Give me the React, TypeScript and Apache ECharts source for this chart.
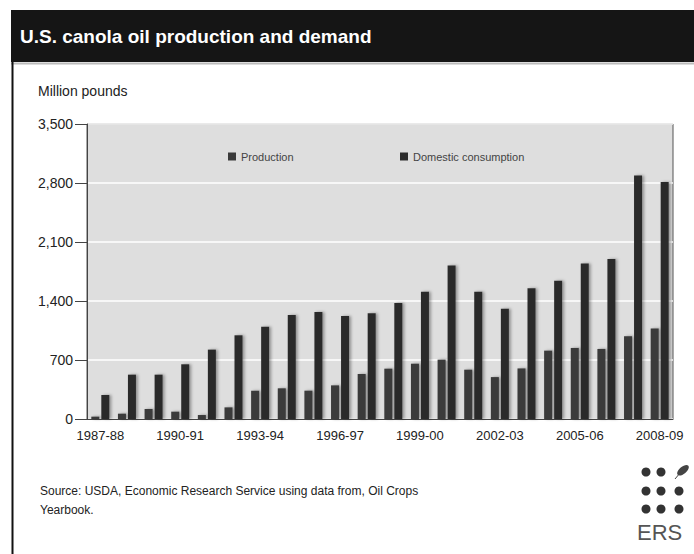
import React, { useEffect, useRef } from "react";
import * as echarts from "echarts";

const categories = [
  "1987-88", "1988-89", "1989-90", "1990-91", "1991-92", "1992-93", "1993-94", "1994-95",
  "1995-96", "1996-97", "1997-98", "1998-99", "1999-00", "2000-01", "2001-02", "2002-03",
  "2003-04", "2004-05", "2005-06", "2006-07", "2007-08", "2008-09",
];
const production = [28, 63, 119, 87, 47, 138, 336, 364, 336, 399, 534, 597, 656, 704, 585, 497, 600, 811, 843, 831, 982, 1074];
const consumption = [285, 526, 526, 649, 823, 993, 1095, 1234, 1270, 1222, 1254, 1376, 1511, 1822, 1511, 1309, 1551, 1639, 1845, 1897, 2888, 2812];
const yTicks = [0, 700, 1400, 2100, 2800, 3500];

const FONT = "Arial, 'Liberation Sans', sans-serif";

export default function App() {
  const ref = useRef<HTMLDivElement>(null);
  useEffect(() => {
    if (!ref.current) return;
    const chart = echarts.init(ref.current, null, { renderer: "svg" });
    const shadow = { shadowBlur: 3, shadowColor: "rgba(0,0,0,0.35)", shadowOffsetX: 2, shadowOffsetY: 0 };
    chart.setOption({
      animation: false,
      backgroundColor: "#ffffff",
      textStyle: { fontFamily: FONT },
      grid: {
        left: 87, right: 21, top: 124, bottom: 135,
        show: true, backgroundColor: "#dedede", borderColor: "#555", borderWidth: 1,
      },
      legend: [
        {
          data: ["Production"], left: 223, top: 146, itemWidth: 8, itemHeight: 8, itemGap: 8,
          icon: "rect", textStyle: { fontSize: 11, color: "#444", fontFamily: FONT },
        },
        {
          data: ["Domestic consumption"], left: 395, top: 146, itemWidth: 8, itemHeight: 8,
          icon: "rect", textStyle: { fontSize: 11, color: "#444", fontFamily: FONT },
        },
      ],
      xAxis: {
        type: "category",
        data: categories,
        axisLine: { lineStyle: { color: "#444" } },
        axisTick: { alignWithLabel: true, interval: 2, length: 5, lineStyle: { color: "#444" } },
        axisLabel: { interval: 2, fontSize: 13, color: "#222", margin: 10, fontFamily: FONT },
      },
      yAxis: {
        type: "value",
        min: yTicks[0],
        max: yTicks[yTicks.length - 1],
        interval: yTicks[1] - yTicks[0],
        axisLine: { show: true, lineStyle: { color: "#444" } },
        axisTick: { show: true, length: 12, lineStyle: { color: "#444" } },
        axisLabel: {
          fontSize: 14, color: "#222", margin: 14, fontFamily: FONT,
          formatter: (v: number) => v.toLocaleString("en-US"),
        },
        splitLine: { lineStyle: { color: "#ffffff", width: 1.5 } },
      },
      series: [
        {
          name: "Production", type: "bar", data: production, barWidth: 8, barGap: "25%",
          itemStyle: { color: "#3a3a3a", ...shadow },
        },
        {
          name: "Domestic consumption", type: "bar", data: consumption, barWidth: 8,
          itemStyle: { color: "#2c2c2c", ...shadow },
        },
      ],
      graphic: [
        { type: "rect", shape: { x: 11, y: 10, width: 683, height: 52 }, style: { fill: "#151515" } },
        { type: "line", shape: { x1: 11, y1: 63.5, x2: 694, y2: 63.5 }, style: { stroke: "#bbb", lineWidth: 2 } },
        { type: "line", shape: { x1: 12.5, y1: 62, x2: 12.5, y2: 554 }, style: { stroke: "#111", lineWidth: 2 } },
        {
          type: "text", x: 20, y: 36,
          style: { text: "U.S. canola oil production and demand", fill: "#fff", font: `bold 19px ${FONT}`, textVerticalAlign: "middle" },
        },
        {
          type: "text", x: 38, y: 91,
          style: { text: "Million pounds", fill: "#222", font: `14px ${FONT}`, textVerticalAlign: "middle" },
        },
        {
          type: "text", x: 40, y: 491,
          style: { text: "Source: USDA, Economic Research Service using data from, Oil Crops", fill: "#222", font: `12px ${FONT}`, textVerticalAlign: "middle" },
        },
        {
          type: "text", x: 40, y: 510,
          style: { text: "Yearbook.", fill: "#222", font: `12px ${FONT}`, textVerticalAlign: "middle" },
        },
        { type: "circle", shape: { cx: 646, cy: 472, r: 4.5 }, style: { fill: "#333" } },
        { type: "circle", shape: { cx: 661, cy: 472, r: 4.5 }, style: { fill: "#333" } },
        { type: "ellipse", shape: { cx: 683, cy: 470, rx: 7, ry: 3.5 }, rotation: 0.7, originX: 683, originY: 470, style: { fill: "#444" } },
        { type: "line", shape: { x1: 675, y1: 479, x2: 680, y2: 473 }, style: { stroke: "#444", lineWidth: 1 } },
        { type: "circle", shape: { cx: 646, cy: 491, r: 4.5 }, style: { fill: "#333" } },
        { type: "circle", shape: { cx: 661, cy: 491, r: 4.5 }, style: { fill: "#333" } },
        { type: "circle", shape: { cx: 679, cy: 491, r: 4.5 }, style: { fill: "#333" } },
        { type: "circle", shape: { cx: 646, cy: 509, r: 4.5 }, style: { fill: "#333" } },
        { type: "circle", shape: { cx: 661, cy: 509, r: 4.5 }, style: { fill: "#333" } },
        { type: "circle", shape: { cx: 679, cy: 509, r: 4.5 }, style: { fill: "#333" } },
        {
          type: "text", x: 637, y: 532,
          style: { text: "ERS", fill: "#555", font: `22px ${FONT}`, textVerticalAlign: "middle" },
        },
      ],
    });
    return () => chart.dispose();
  }, []);
  return <div ref={ref} style={{ position: "fixed", left: 0, top: 0, width: 694, height: 554 }} />;
}
